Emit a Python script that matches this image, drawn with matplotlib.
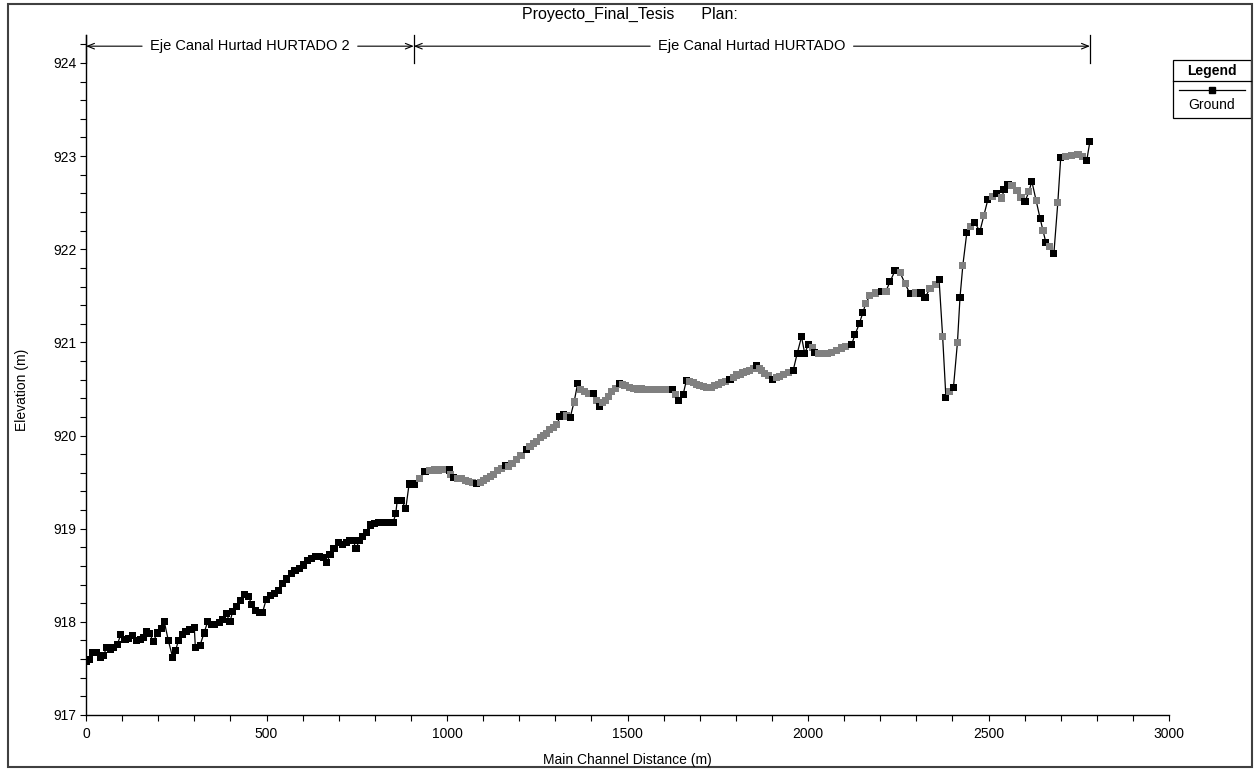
import matplotlib
matplotlib.use("Agg")
import matplotlib.pyplot as plt
from matplotlib.patches import Rectangle
from matplotlib.lines import Line2D
from matplotlib.ticker import MultipleLocator

plt.rcParams['font.family'] = ['Liberation Sans', 'DejaVu Sans']

# ---------------- data ----------------
title_text = "Proyecto_Final_Tesis      Plan:"
xlabel_text = "Main Channel Distance (m)"
ylabel_text = "Elevation (m)"
legend_title = "Legend"
legend_label = "Ground"

reach_names = ["Eje Canal Hurtad HURTADO 2", "Eje Canal Hurtad HURTADO"]
reach_bounds = [0, 908, 2781]

# reach HURTADO 2 (all surveyed sections)
r2_x = [0, 9, 18, 30, 39, 48, 57, 68, 76, 87, 96, 108, 117, 128, 139, 150, 159, 168,
        177, 186, 198, 208, 217, 228, 240, 248, 256, 268, 277, 288, 300, 303, 316,
        327, 337, 348, 357, 369, 379, 388, 399, 406, 417, 428, 440, 450, 459, 470,
        482, 489, 499, 510, 521, 533, 545, 556, 568, 579, 591, 602, 613, 625, 637,
        648, 659, 667, 676, 687, 699, 711, 722, 731, 740, 748, 757, 766, 776, 787,
        798, 810, 822, 833, 844, 851, 858, 862, 874, 886, 895, 906]
r2_y = [917.57, 917.60, 917.67, 917.67, 917.62, 917.64, 917.72, 917.70, 917.72,
        917.76, 917.86, 917.81, 917.82, 917.85, 917.80, 917.81, 917.83, 917.90,
        917.87, 917.79, 917.88, 917.93, 918.00, 917.80, 917.62, 917.69, 917.80,
        917.86, 917.90, 917.92, 917.94, 917.72, 917.75, 917.88, 918.00, 917.97,
        917.97, 917.99, 918.03, 918.09, 918.00, 918.11, 918.16, 918.23, 918.29,
        918.27, 918.19, 918.12, 918.10, 918.10, 918.24, 918.28, 918.30, 918.34,
        918.41, 918.46, 918.52, 918.55, 918.57, 918.61, 918.66, 918.68, 918.70,
        918.70, 918.69, 918.64, 918.72, 918.79, 918.85, 918.83, 918.85, 918.87,
        918.87, 918.79, 918.87, 918.92, 918.96, 919.04, 919.06, 919.07, 919.07,
        919.07, 919.07, 919.07, 919.16, 919.30, 919.30, 919.22, 919.48, 919.47]

# reach HURTADO (k = surveyed section, g = interpolated section)
r1_x = [911, 925, 939, 953, 965, 976, 985, 994, 1006, 1010, 1019, 1030, 1040, 1050,
        1059, 1070, 1082, 1092, 1100, 1110, 1120, 1128, 1140, 1150, 1161, 1170, 1180,
        1193, 1205, 1219, 1230, 1240, 1248, 1258, 1268, 1276, 1285, 1295, 1304, 1313,
        1322, 1331, 1341, 1352, 1362, 1370, 1380, 1391, 1405, 1413, 1422, 1430, 1438,
        1447, 1456, 1466, 1477, 1485, 1493, 1505, 1516, 1527, 1539, 1550, 1562, 1574,
        1586, 1597, 1608, 1617, 1625, 1634, 1641, 1654, 1663, 1673, 1682, 1691, 1700,
        1710, 1720, 1733, 1742, 1751, 1761, 1772, 1784, 1793, 1802, 1812, 1820, 1830,
        1839, 1848, 1858, 1865, 1871, 1880, 1890, 1902, 1912, 1922, 1933, 1945, 1959,
        1970, 1982, 1991, 2001, 2012, 2019, 2030, 2042, 2054, 2066, 2078, 2093, 2105,
        2121, 2130, 2142, 2152, 2160, 2171, 2188, 2205, 2216, 2227, 2241, 2255, 2269,
        2283, 2299, 2313, 2324, 2338, 2352, 2363, 2373, 2382, 2391, 2403, 2414, 2421,
        2429, 2440, 2451, 2462, 2476, 2487, 2498, 2510, 2523, 2537, 2543, 2554, 2565,
        2579, 2590, 2601, 2612, 2620, 2632, 2643, 2651, 2659, 2670, 2681, 2692, 2700,
        2714, 2731, 2748, 2761, 2772, 2781]
r1_y = [919.48, 919.54, 919.61, 919.62, 919.63, 919.63, 919.64, 919.64, 919.63,
        919.58, 919.55, 919.54, 919.54, 919.52, 919.51, 919.50, 919.49, 919.50,
        919.52, 919.54, 919.56, 919.58, 919.62, 919.65, 919.68, 919.67, 919.70,
        919.74, 919.79, 919.85, 919.88, 919.91, 919.94, 919.98, 920.00, 920.02,
        920.06, 920.09, 920.12, 920.20, 920.23, 920.21, 920.19, 920.36, 920.56,
        920.49, 920.47, 920.45, 920.45, 920.38, 920.31, 920.35, 920.38, 920.42,
        920.47, 920.51, 920.56, 920.55, 920.54, 920.52, 920.51, 920.50, 920.50,
        920.49, 920.49, 920.49, 920.49, 920.49, 920.49, 920.49, 920.49, 920.44,
        920.38, 920.44, 920.59, 920.58, 920.57, 920.55, 920.54, 920.53, 920.52,
        920.52, 920.54, 920.55, 920.57, 920.58, 920.60, 920.62, 920.65, 920.66,
        920.68, 920.69, 920.70, 920.72, 920.75, 920.72, 920.70, 920.67, 920.64,
        920.60, 920.62, 920.63, 920.66, 920.68, 920.70, 920.88, 921.06, 920.88,
        920.98, 920.95, 920.89, 920.88, 920.88, 920.88, 920.89, 920.91, 920.94,
        920.96, 920.98, 921.08, 921.20, 921.32, 921.42, 921.50, 921.53, 921.55,
        921.55, 921.65, 921.77, 921.75, 921.63, 921.52, 921.53, 921.53, 921.48,
        921.58, 921.62, 921.68, 921.06, 920.41, 920.47, 920.52, 921.00, 921.48,
        921.83, 922.18, 922.24, 922.29, 922.19, 922.36, 922.53, 922.57, 922.60,
        922.55, 922.64, 922.70, 922.68, 922.63, 922.56, 922.51, 922.62, 922.73,
        922.52, 922.33, 922.20, 922.07, 922.03, 921.95, 922.50, 922.98, 923.00,
        923.01, 923.02, 923.00, 922.95, 923.16]
r1_kind = list(
    "kgkgggggk" "gkgggggk" "gggggggk" "ggggk" "gggggggggk" "kgkgk" "gggk" "gk"
    "gggggk" "gggggggggggggk" "gkkk" "gggggggggggk" "gggggggk" "ggggk" "ggggk"
    "kkkkgk" "gggggggk" "kkk" "gggk" "gkk" "ggk" "gkk" "ggk" "gkgkgkgkgk"
    "kgkgkgkk" "gggk" "gkgkgkgkgk" "ggggkk")

# ---------------- figure ----------------
W, H = 1259, 771
fig = plt.figure(figsize=(W / 100, H / 100), dpi=100)
ax = fig.add_axes([86 / W, 56 / H, (1169 - 86) / W, (715 - 35) / H])

all_x = r2_x + r1_x
all_y = r2_y + r1_y
kinds = ["k"] * len(r2_x) + r1_kind[:len(r1_x)]
kinds += ["k"] * (len(all_x) - len(kinds))
cols = ["#000000" if k == "k" else "#808080" for k in kinds]

ax.plot(all_x, all_y, color="black", lw=0.9, zorder=2)
ax.scatter(all_x, all_y, c=cols, marker="s", s=26, linewidths=0, zorder=3)

ax.set_xlim(0, 3000)
ax.set_ylim(917, 924.3)
ax.xaxis.set_major_locator(MultipleLocator(500))
ax.xaxis.set_minor_locator(MultipleLocator(100))
ax.yaxis.set_minor_locator(MultipleLocator(0.2))
ax.set_yticks([917, 918, 919, 920, 921, 922, 923, 924])
ax.tick_params(which="both", direction="out", length=4, width=0.8, labelsize=10,
               pad=3)
ax.tick_params(axis="x", which="both", pad=5)
for s in ("top", "right"):
    ax.spines[s].set_visible(False)
for s in ("left", "bottom"):
    ax.spines[s].set_linewidth(1.0)

# reach annotations
y_arrow = 924.18
fig.canvas.draw()
renderer = fig.canvas.get_renderer()
inv = ax.transData.inverted()
for i, name in enumerate(reach_names):
    x0, x1 = reach_bounds[i], reach_bounds[i + 1]
    xm = (x0 + x1) / 2
    t = ax.text(xm, y_arrow, name, ha="center", va="center", fontsize=10.5)
    bb = t.get_window_extent(renderer)
    left = inv.transform((bb.x0 - 8, 0))[0]
    right = inv.transform((bb.x1 + 8, 0))[0]
    ax.annotate("", xy=(x0, y_arrow), xytext=(left, y_arrow), annotation_clip=False,
                arrowprops=dict(arrowstyle="->,head_length=0.5,head_width=0.2", lw=0.8,
                                color="black", shrinkA=0, shrinkB=0))
    ax.annotate("", xy=(x1, y_arrow), xytext=(right, y_arrow), annotation_clip=False,
                arrowprops=dict(arrowstyle="->,head_length=0.5,head_width=0.2", lw=0.8,
                                color="black", shrinkA=0, shrinkB=0))
for xb in reach_bounds:
    ax.plot([xb, xb], [924.0, 924.3], color="black", lw=0.9, clip_on=False)

# title and axis labels
fig.text(630 / W, 1 - 14 / H, title_text, ha="center", va="center", fontsize=11.5)
fig.text(627 / W, 11 / H, xlabel_text, ha="center", va="center", fontsize=10)
fig.text(22 / W, 1 - 390 / H, ylabel_text, ha="center", va="center", rotation=90,
         fontsize=10)

# legend box
lx0, lx1, ly0, ly1 = 1173, 1251, 60, 118
fig.add_artist(Rectangle((lx0 / W, 1 - ly1 / H), (lx1 - lx0) / W, (ly1 - ly0) / H,
                         transform=fig.transFigure, fill=False, ec="black", lw=0.9))
fig.add_artist(Line2D([lx0 / W, lx1 / W], [1 - 81 / H, 1 - 81 / H],
                      transform=fig.transFigure, color="black", lw=0.9))
fig.text((lx0 + lx1) / 2 / W, 1 - 71 / H, legend_title, ha="center", va="center",
         fontsize=10, fontweight="bold")
fig.add_artist(Line2D([(lx0 + 6) / W, (lx1 - 6) / W], [1 - 90 / H, 1 - 90 / H],
                      transform=fig.transFigure, color="black", lw=0.9))
fig.add_artist(Line2D([(lx0 + lx1) / 2 / W], [1 - 90 / H], transform=fig.transFigure,
                      color="black", marker="s", ms=5, lw=0))
fig.text((lx0 + lx1) / 2 / W, 1 - 105 / H, legend_label, ha="center", va="center",
         fontsize=10)

# outer frame
fig.add_artist(Rectangle((8 / W, 4 / H), (1252 - 8) / W, (767 - 4) / H,
                         transform=fig.transFigure, fill=False, ec="#404040", lw=1.5))

fig.savefig("out.png", dpi=100)
